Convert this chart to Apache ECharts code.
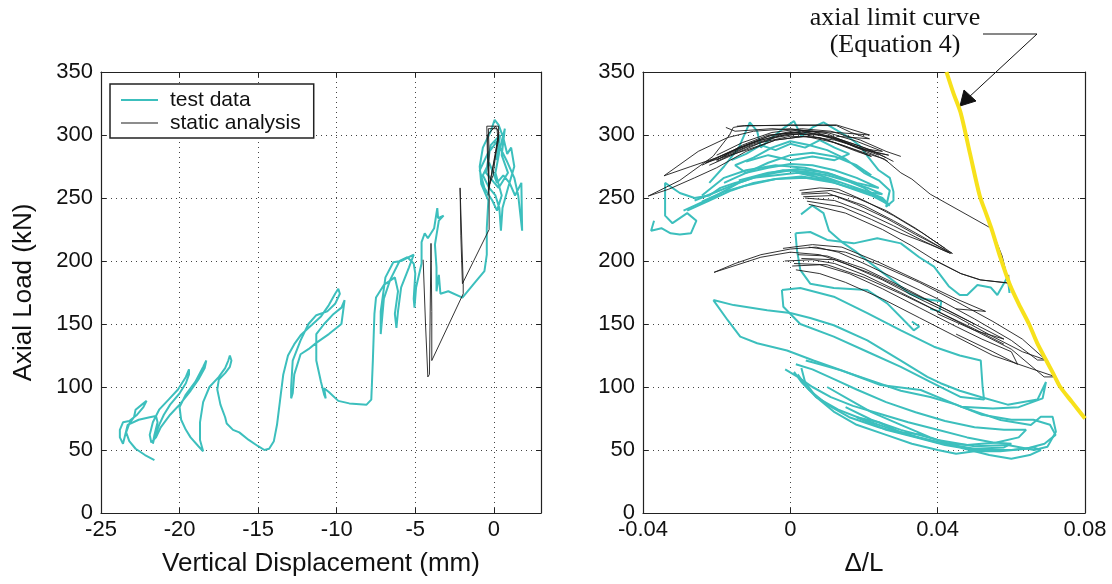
<!DOCTYPE html>
<html>
<head>
<meta charset="utf-8">
<script src="https://cdn.jsdelivr.net/npm/echarts@6/dist/echarts.min.js"></script>
<style>
html,body{margin:0;padding:0;background:#fff;}
#chart{width:1112px;height:584px;}
</style>
</head>
<body>
<div id="chart"></div>
<script>
// tick values
var loadTicks = [0, 50, 100, 150, 200, 250, 300, 350];
var dispTicks = [-25, -20, -15, -10, -5, 0];
var driftTicks = [-0.04, 0, 0.04, 0.08];

// ---- left plot : axial load vs vertical displacement ----
var leftTest = [
  [-21.6,42],[-22.2,46],[-22.8,51],[-23.2,57],[-23.4,64],[-23.2,71],[-22.9,76],[-22.8,82],[-22.4,86],[-22.1,89],
  [-22.3,84],[-22.7,78],[-23.2,73],[-23.6,72],[-23.8,66],[-23.8,60],[-23.6,55],[-23.5,60],[-23.3,70],[-22.6,74],
  [-21.9,76],[-21.5,77],[-21.4,72],[-21.6,62],[-21.7,55],[-21.6,60],[-21.3,70],[-21.0,78],[-20.6,86],[-20.0,95],
  [-19.6,103],[-19.4,110],[-19.4,114],[-19.6,108],[-20.1,98],[-20.7,90],[-21.3,82],[-21.7,72],[-21.9,62],[-21.8,56],
  [-21.5,60],[-21.2,68],[-20.6,78],[-20.0,86],[-19.3,97],[-18.8,106],[-18.4,115],[-18.3,121],[-18.5,116],[-19.0,104],
  [-19.6,94],[-20.0,84],[-19.9,74],[-19.6,66],[-19.3,60],[-18.8,53],[-18.5,49],[-18.7,58],[-18.7,72],[-18.5,88],
  [-18.1,100],[-17.5,108],[-17.1,115],[-16.9,121],[-16.8,125],[-16.7,121],[-16.8,116],[-17.1,111],[-17.5,106],[-17.6,98],
  [-17.4,86],[-17.1,76],[-17.0,71],[-16.6,66],[-16.2,64],[-15.6,58],[-15.0,53],[-14.6,50],[-14.3,51],[-14.0,57],
  [-13.8,70],[-13.6,90],[-13.4,110],[-13.1,125],[-12.7,134],[-12.3,141],[-11.7,148],[-11.0,156],[-10.5,165],[-10.1,174],
  [-9.9,178],[-9.8,174],[-10.1,166],[-10.6,160],[-11.3,157],[-11.8,150],[-12.3,137],[-12.8,121],[-12.9,100],[-12.9,91],
  [-12.8,95],[-12.7,110],[-12.3,126],[-11.8,130],[-11.3,135],[-10.5,142],[-9.7,150],[-9.5,169],[-9.7,163],[-10.2,158],
  [-10.8,150],[-11.3,142],[-11.3,121],[-11.0,104],[-10.8,94],[-10.7,91],[-10.8,99],[-10.5,96],[-9.9,89],[-9.2,87],
  [-8.1,86],[-7.8,90],[-7.7,121],[-7.6,158],[-7.5,171],[-7.0,181],[-6.3,187],[-6.1,176],[-6.3,158],[-6.2,147],
  [-6.1,160],[-5.9,179],[-5.4,195],[-5.1,205],[-5.9,200],[-6.4,199],[-6.9,187],[-7.2,160],[-7.2,142],[-7.0,170],
  [-6.6,185],[-6.0,200],[-5.5,203],[-5.1,198],[-5.0,190],[-5.1,170],[-5.05,163],[-4.95,179],[-4.6,198],[-4.6,215],
  [-4.4,222],[-4.2,218],[-3.8,226],[-3.6,242],[-3.55,234],[-3.2,236],[-3.5,232],[-3.75,213],[-3.65,195],[-3.65,176],
  [-3.5,189],[-3.4,174],[-2.9,176],[-2.0,171],[-1.2,183],[-0.6,192],[-0.45,205],[-0.45,226],[-0.35,248],[-0.8,261],
  [-0.9,275],[-0.7,290],[-0.2,303],[0.05,312],[0.3,308],[0.6,298],[0.85,285],[1.1,290],[1.3,275],[0.9,258],
  [0.55,242],[0.45,224],[0.35,242],[0.1,252],[-0.3,258],[-0.7,268],[-0.3,278],[0.2,262],[0.6,268],[1.0,262],
  [1.35,252],[1.75,262],[1.8,224],[1.55,252],[1.3,266],[0.8,280],[0.2,295],[-0.4,285],[-0.9,272],[-0.6,258],
  [-0.1,248],[0.2,240],[0.5,252],[0.1,270],[0.4,290],[0.7,305],[0.5,284],[0.9,270],[0.3,258],[-0.5,270],
  [-0.2,292],[0.4,300],[0.15,280]
];
var leftStatic = [
  [-4.5,201],[-4.35,150],[-4.2,108],[-4.1,110],[-4.0,214],[-3.95,160],[-3.95,121],[-1.95,174],[-1.95,182],[-2.15,258],
  [-2.1,220],[-2.0,182],[-1.9,182],[-0.3,225],[-0.3,252],[-0.4,280],[-0.45,307],[0.3,307],[0.3,296],[-0.1,272],
  [-0.35,256],[-0.3,285],[-0.35,305],[0.2,305],[0.25,298],[-0.05,268],[-0.3,260],[-0.4,300],[0.1,307],[0.32,302],
  [-0.2,265],[-0.38,252]
];

// ---- right plot : axial load vs drift ratio ----
var rightTest1 = [[-0.037,232],[-0.0378,224],[-0.035,226],[-0.0325,222],[-0.03,221],[-0.027,222],[-0.0255,232],[-0.028,238],[-0.032,230],[-0.034,236],[-0.034,262],[-0.03,254],[-0.026,250],[-0.022,252],[-0.019,258],[-0.015,262],[-0.01,266],[-0.004,268],[0.002,270],[0.008,266],[0.014,262],[0.02,256],[0.025,250],[0.027,244],[0.023,252],[0.016,260],[0.008,268],[0,272],[-0.008,268],[-0.014,262],[-0.02,252],[-0.026,244],[-0.029,240]];
var rightTest2 = [[-0.028,240],[-0.022,248],[-0.016,256],[-0.01,262],[-0.004,265],[0.003,267],[0.01,264],[0.016,258],[0.022,252],[0.026,246],[0.02,258],[0.012,268],[0.004,274],[-0.004,276],[-0.012,272],[-0.018,266],[-0.024,252]];
var rightTest3 = [[-0.022,262],[-0.018,275],[-0.014,290],[-0.011,310],[-0.009,303],[-0.008,290],[-0.005,298],[-0.002,305],[0.001,311],[0.003,299],[0.006,306],[0.009,310],[0.013,303],[0.016,298],[0.019,291],[0.021,283],[0.024,272],[0.027,266],[0.028,255],[0.028,248],[0.026,243],[0.027,256],[0.024,264],[0.02,270],[0.015,281],[0.01,288],[0.005,292],[0,295],[-0.005,290],[-0.01,282],[-0.015,276],[-0.012,270],[-0.006,278],[0,284],[0.006,286],[0.012,283],[0.018,276],[0.022,268]];
var rightTest4 = [[0.0029,237],[0.006,244],[0.009,238],[0.0105,224],[0.014,215],[0.018,207],[0.021,200],[0.025,191],[0.029,182],[0.0324,174],[0.036,170],[0.041,168],[0.0405,160],[0.038,162]];
var rightTest5 = [[0.0014,222],[0.0054,223],[0.01,216.7],[0.0172,214],[0.0236,218],[0.03,214],[0.035,203],[0.039,195.5],[0.043,180],[0.046,173],[0.048,173],[0.0508,181],[0.0544,179],[0.0562,173],[0.059,187.5],[0.0595,174.6]];
var rightTest6 = [[0.0014,222],[0.0018,208.7],[0.0027,193],[0.0054,182],[0.0118,178.6],[0.0209,177],[0.0263,166.4],[0.0335,145],[0.035,148],[0.033,152]];
var rightTest7 = [[-0.026,248],[-0.02,255],[-0.014,262],[-0.008,268],[-0.002,272],[0.004,271],[0.01,268],[0.016,263],[0.021,258],[0.025,253],[0.02,255],[0.012,262],[0.004,266],[-0.004,265],[-0.012,260],[-0.018,255],[-0.024,247]];
var rightTest8 = [[-0.018,262],[-0.012,270],[-0.006,274],[0,277],[0.006,276],[0.012,272],[0.018,266],[0.024,258],[0.018,262],[0.01,270],[0.002,273],[-0.006,270],[-0.014,264]];
var rightTest9 = [[-0.016,280],[-0.012,285],[-0.008,292],[-0.004,288],[0,293],[0.004,290],[0.008,296],[0.012,290],[0.016,285],[0.012,280],[0.006,283],[0,280],[-0.006,284],[-0.012,279]];
var rightLoop1 = [[-0.0209,169],[-0.0154,165],[-0.0063,161],[0,158.7],[0.0054,154.8],[0.0118,149],[0.0209,137],[0.03,121],[0.0372,108],[0.0408,103],[0.046,97],[0.0517,92],[0.059,86],[0.0671,90],[0.0694,104],[0.0685,91],[0.062,84],[0.055,83],[0.0463,84.4],[0.0354,97.6],[0.0245,101.6],[0.0136,113.5],[0.0063,121],[-0.0009,129],[-0.009,134.7],[-0.0136,140],[-0.017,153],[-0.0209,169]];
var rightLoop2 = [[-0.0023,177],[0.0027,178.6],[0.0118,171.7],[0.0209,158.7],[0.03,145],[0.039,132],[0.046,125],[0.0517,121],[0.0522,100],[0.0526,90],[0.0463,92],[0.038,104],[0.03,116],[0.0209,128],[0.0118,140],[0.0027,150],[-0.0019,163.7],[-0.0023,177]];
var rightLoop3 = [[0.0463,84.4],[0.0571,73.8],[0.0653,69.8],[0.068,76.4],[0.0712,76.4],[0.0721,64.5],[0.0698,52.6],[0.0662,50],[0.059,54],[0.05,53],[0.04,58],[0.03,66],[0.022,74],[0.015,84]];
var rightLoop4 = [[-0.0014,114],[0.002,108],[0.006,100],[0.011,92],[0.017,85],[0.024,79],[0.032,72],[0.04,66],[0.048,60],[0.055,56],[0.06,55],[0.058,52],[0.05,51],[0.042,55],[0.035,60],[0.028,66],[0.02,74],[0.013,82],[0.007,92],[0.003,104],[0.001,112]];
var rightLoop5 = [[0.0042,121],[0.008,118],[0.014,113],[0.022,105],[0.03,97],[0.038,92],[0.045,86],[0.052,78],[0.06,74],[0.066,74],[0.0705,70],[0.072,62],[0.069,55],[0.064,51],[0.057,49],[0.05,49],[0.045,47],[0.04,50],[0.033,55],[0.026,62],[0.018,70],[0.012,80],[0.007,92],[0.004,104],[0.003,115]];
var rightLoop6 = [[0.0015,118],[0.006,114],[0.012,106],[0.018,98],[0.026,88],[0.034,80],[0.042,73],[0.05,68],[0.058,66],[0.064,66],[0.062,60],[0.056,56],[0.048,54],[0.04,56],[0.032,62],[0.024,68],[0.016,76],[0.01,86],[0.005,98],[0.002,110]];
var rightLoop7 = [[0.01,100],[0.016,90],[0.022,80],[0.03,70],[0.038,60],[0.046,52],[0.054,46],[0.06,43],[0.065,46],[0.068,50],[0.066,52],[0.06,50],[0.05,50],[0.042,54],[0.034,60],[0.026,66],[0.018,76],[0.024,72],[0.03,64],[0.036,62]];

var rightStatic1 = [[-0.0386,251.5],[-0.03,264],[-0.021,283],[-0.0165,300],[-0.0155,306],[-0.0125,307.5],[0,307.5],[0.0125,307.5],[0.0165,302],[0.0215,297],[0.0125,299]];
var rightStatic2 = [[-0.0386,251.5],[-0.033,257],[-0.026,266],[-0.02,274],[-0.012,287],[-0.004,296],[0.004,299],[0.012,294],[0.02,286],[0.0255,281],[0.03,270],[0.033,265],[0.038,253],[0.0545,226],[0.0575,204],[0.0593,182.5],[0.0515,185],[0.0463,190],[0.039,200.8]];
var rightStatic3 = [[-0.0343,267.6],[-0.027,275],[-0.02,282],[-0.012,292],[-0.005,300],[0.003,303],[0.011,299],[0.018,290],[0.0267,284],[0.02,288],[0.01,301],[0,305],[-0.01,303],[-0.017,298],[-0.025,287],[-0.0343,267.6]];
var rightStatic4 = [[-0.022,276],[-0.015,285],[-0.008,294],[0,299],[0.008,298],[0.015,291],[0.022,283],[0.018,287],[0.01,296],[0.002,302],[-0.006,300],[-0.013,292],[-0.02,280],[-0.017,285],[-0.01,294],[-0.002,301],[0.006,303],[0.013,296],[0.0245,282],[0.0265,279]];
var rightStatic5 = [[-0.0145,307],[0,308],[0.0125,308],[0.0215,300],[0.0125,302],[-0.005,305],[-0.015,303],[-0.0175,306]];
var rightStatic6 = [[0.0025,256],[0.008,258],[0.013,257],[0.02,248],[0.028,236],[0.036,222],[0.044,206],[0.034,221],[0.026,234],[0.018,245],[0.01,254],[0.003,253]];
var rightStatic7 = [[0.004,250],[0.012,248],[0.02,239],[0.028,228],[0.036,216],[0.0435,206],[0.038,213],[0.03,222],[0.022,233],[0.014,243],[0.0045,247.5]];
var rightStatic8 = [[0.005,245],[0.015,238],[0.025,225],[0.033,212],[0.039,201],[0.0463,190],[0.0517,185],[0.0593,182.5],[0.0593,189]];
var rightStatic9 = [[-0.0207,191],[-0.015,198],[-0.008,205],[0,209.5],[0.007,211],[0.013,207],[0.02,198],[0.03,184],[0.04,170],[0.05,154],[0.06,137],[0.0671,121.4],[0.0694,121.4],[0.063,128],[0.055,140],[0.045,156],[0.035,170],[0.025,185],[0.015,198],[0.008,205],[0,207],[-0.008,203],[-0.0207,191]];
var rightStatic10 = [[-0.002,210],[0.006,213],[0.014,211],[0.024,199],[0.035,184],[0.045,170],[0.053,160],[0.045,162]];
var rightStatic11 = [[-0.0015,200],[0.006,201],[0.012,198],[0.02,189],[0.03,175],[0.04,160],[0.05,145],[0.06,130],[0.0689,108],[0.0721,108],[0.065,115],[0.055,125],[0.045,140],[0.035,155],[0.025,170],[0.015,183],[0.008,190],[0.0015,193]];
var rightStatic12 = [[0.0005,196],[0.008,197],[0.016,190],[0.025,178],[0.035,163],[0.045,148],[0.052,138],[0.06,128],[0.0617,118],[0.055,128],[0.045,142]];
var rightStatic13 = [[0.002,205],[0.01,204],[0.02,194],[0.03,180],[0.04,165],[0.05,150],[0.058,138],[0.05,145],[0.04,158]];
var rightStatic14 = [[0.005,211],[0.015,207],[0.025,196],[0.035,183],[0.045,168],[0.055,152],[0.063,138],[0.0694,121.4]];
var rightStatic15 = [[-0.024,276],[-0.016,287],[-0.008,296],[0,301],[0.008,300],[0.016,293],[0.024,284]];
var rightStatic16 = [[-0.02,279],[-0.012,290],[-0.004,298],[0.004,302],[0.012,298],[0.02,290],[0.026,282]];
var rightStatic17 = [[-0.023,278],[-0.014,290],[-0.006,299],[0.002,304],[0.01,302],[0.018,295],[0.025,287],[0.02,289],[0.012,296],[0.004,299],[-0.004,296],[-0.012,288],[-0.023,278]];
var rightStatic18 = [[-0.018,283],[-0.01,293],[-0.002,300],[0.006,301],[0.014,296],[0.022,288],[0.028,279]];
var rightStatic19 = [[-0.02,284],[-0.013,294],[-0.005,302],[0.003,305],[0.011,303],[0.019,296],[0.026,287],[0.03,283]];
var rightStatic20 = [[0.003,254],[0.011,256],[0.018,250],[0.026,240],[0.034,226],[0.042,210]];
var rightStatic21 = [[0.0035,251],[0.012,252],[0.02,244],[0.028,232],[0.036,219],[0.043,207]];
var rightStatic22 = [[0.001,198],[0.01,197],[0.02,187],[0.03,174],[0.04,160],[0.05,146],[0.058,134]];
var rightStatic23 = [[0.003,202],[0.012,201],[0.022,190],[0.032,176],[0.042,162],[0.05,150]];

// axial limit curve (Equation 4)
var limitCurve = [[0.0424,350],[0.0443,333],[0.0462,318],[0.0488,285],[0.0514,252],[0.0531,238],[0.0548,224],
  [0.057,203],[0.0595,182],[0.062,166],[0.0648,150],[0.067,135],[0.0695,121],[0.0715,110],[0.0733,100],[0.0765,88],[0.08,75]];

var TEAL = '#3cbfbd';
var BLACK = '#1c1c1c';
var FONT = 'Liberation Sans, Arial, Helvetica, sans-serif';

var rightTests = [rightTest1, rightTest2, rightTest3, rightTest4, rightTest5, rightTest6, rightTest7, rightTest8, rightTest9,
  rightLoop1, rightLoop2, rightLoop3, rightLoop4, rightLoop5, rightLoop6, rightLoop7];
var rightStatics = [rightStatic1, rightStatic2, rightStatic3, rightStatic4, rightStatic5, rightStatic6, rightStatic7,
  rightStatic8, rightStatic9, rightStatic10, rightStatic11, rightStatic12, rightStatic13, rightStatic14,
  rightStatic15, rightStatic16, rightStatic17, rightStatic18, rightStatic19, rightStatic20, rightStatic21,
  rightStatic22, rightStatic23];

function lineSeries(name, data, axis, color, width){
  return {
    name: name, type: 'line', data: data,
    xAxisIndex: axis, yAxisIndex: axis,
    symbol: 'none', showSymbol: false, smooth: false, animation: false,
    lineStyle: {color: color, width: width},
    itemStyle: {color: color},
    z: color == BLACK ? 3 : 2
  };
}

function mainX(idx, min, max, interval, name){
  return {
    type: 'value', gridIndex: idx, min: min, max: max, interval: interval,
    name: name, nameLocation: 'middle', nameGap: 38,
    nameTextStyle: {fontFamily: FONT, fontSize: 26, color: '#111'},
    axisLine: {show: true, onZero: false, lineStyle: {color: '#222', width: 1.2}},
    axisTick: {show: true, inside: true, length: 5, lineStyle: {color: '#222'}},
    axisLabel: {fontFamily: FONT, fontSize: 22, color: '#111', margin: 6, showMaxLabel: idx == 1,
      formatter: function(v){ return Math.abs(v) < 1e-9 ? '0' : String(+v.toFixed(4)); }},
    splitLine: {show: true, lineStyle: {color: '#444', type: [1, 4], width: 1}}
  };
}
function mainY(idx){
  return {
    type: 'value', gridIndex: idx, min: 0, max: 350, interval: 50,
    name: idx == 0 ? 'Axial Load (kN)' : '', nameLocation: 'middle', nameGap: 64,
    nameTextStyle: {fontFamily: FONT, fontSize: 26, color: '#111'},
    axisLine: {show: true, onZero: false, lineStyle: {color: '#222', width: 1.2}},
    axisTick: {show: true, inside: true, length: 5, lineStyle: {color: '#222'}},
    axisLabel: {fontFamily: FONT, fontSize: 22, color: '#111', margin: 8},
    splitLine: {show: true, lineStyle: {color: '#444', type: [1, 4], width: 1}}
  };
}
function frameAxis(idx, min, max, interval, pos){
  return {
    type: 'value', gridIndex: idx, min: min, max: max, interval: interval, position: pos,
    axisLine: {show: true, onZero: false, lineStyle: {color: '#222', width: 1.2}},
    axisTick: {show: true, inside: true, length: 5, lineStyle: {color: '#222'}},
    axisLabel: {show: false}, splitLine: {show: false}
  };
}

function initChart(elem){
  var myChart = echarts.init(document.getElementById(elem), null, {renderer: 'canvas'});
  var series = [];
  series.push(lineSeries('test data', leftTest, 0, TEAL, 2));
  for (var i = 0; i < rightTests.length; i++) series.push(lineSeries('test data', rightTests[i], 1, TEAL, 2));
  series.push(lineSeries('static analysis', leftStatic, 0, BLACK, 0.9));
  for (var j = 0; j < rightStatics.length; j++) series.push(lineSeries('static analysis', rightStatics[j], 1, BLACK, 0.9));
  var limit = lineSeries('axial limit curve', limitCurve, 1, '#f7e11b', 4);
  limit.z = 4;
  limit.smooth = 0.3;
  series.push(limit);

  var option = {
    backgroundColor: '#fff',
    animation: false,
    grid: [
      {left: 101, right: 571, top: 72, bottom: 71, show: false},
      {left: 643, right: 27, top: 72, bottom: 71, show: false}
    ],
    legend: {
      data: [
        {name: 'test data', icon: 'rect', itemStyle: {color: TEAL}},
        {name: 'static analysis', icon: 'path://M0,0 L40,0 L40,1 L0,1 Z', itemStyle: {color: BLACK}}
      ],
      orient: 'vertical', left: 110, top: 84,
      padding: [5, 13, 4, 11], itemGap: 1,
      itemWidth: 37, itemHeight: 2,
      borderColor: '#222', borderWidth: 1.5, borderRadius: 0,
      backgroundColor: '#fff',
      textStyle: {fontFamily: FONT, fontSize: 21, color: '#111', lineHeight: 22, padding: [0, 0, 0, 7]},
      selectedMode: false
    },
    xAxis: [
      mainX(0, -25, 3, 5, 'Vertical Displacement (mm)'),
      mainX(1, -0.04, 0.08, 0.04, '\u0394/L'),
      frameAxis(0, -25, 3, 5, 'top'),
      frameAxis(1, -0.04, 0.08, 0.04, 'top')
    ],
    yAxis: [
      mainY(0),
      mainY(1),
      frameAxis(0, 0, 350, 50, 'right'),
      frameAxis(1, 0, 350, 50, 'right')
    ],
    series: series,
    graphic: [
      {type: 'text', x: 895, y: 18,
        style: {text: 'axial limit curve', font: '26px "Liberation Serif", "Times New Roman", serif', fill: '#111', align: 'center', verticalAlign: 'middle'}},
      {type: 'text', x: 895, y: 45,
        style: {text: '(Equation 4)', font: '26px "Liberation Serif", "Times New Roman", serif', fill: '#111', align: 'center', verticalAlign: 'middle'}},
      {type: 'polyline', shape: {points: [[983, 34], [1037, 34], [968, 98]]},
        style: {stroke: '#111', lineWidth: 1, fill: null}},
      {type: 'polygon', shape: {points: [[960, 106], [964, 90], [976, 101]]},
        style: {fill: '#111', stroke: '#111'}}
    ]
  };
  myChart.setOption(option);
}

initChart('chart');
</script>
</body>
</html>
